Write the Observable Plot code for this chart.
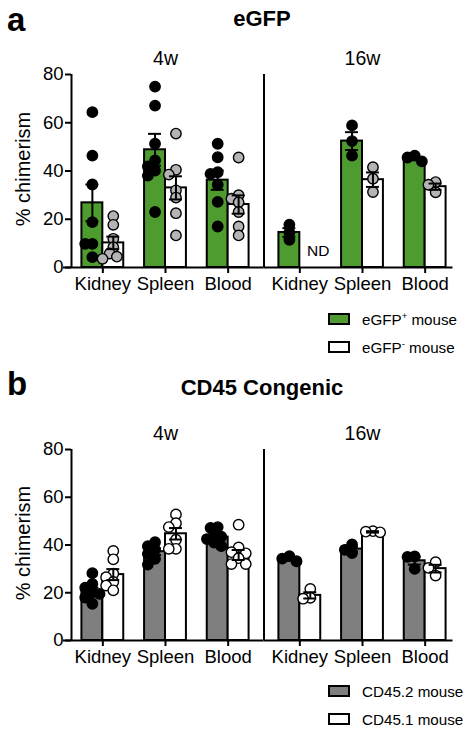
<!DOCTYPE html>
<html><head><meta charset="utf-8">
<script src="https://cdn.jsdelivr.net/npm/d3@7"></script>
<script src="https://cdn.jsdelivr.net/npm/@observablehq/plot@0.6"></script>
<style>
body{margin:0;background:#fff;font-family:"Liberation Sans",Arial,Helvetica,sans-serif;color:#000;}
#root{position:relative;width:474px;height:736px;overflow:hidden;background:#fff;}
.abs{position:absolute;white-space:nowrap;line-height:1;}
.lab{font-weight:bold;font-size:33px;left:7px;}
.title{font-weight:bold;font-size:22px;width:300px;left:112px;text-align:center;}
.panel{position:absolute;left:0;}
.leg{position:absolute;left:328px;display:flex;align-items:center;height:15px;font-size:15.2px;white-space:nowrap;}
.sw{display:inline-block;width:18px;height:8px;border:2px solid #000;margin-right:12px;}
.leg sup{font-size:9.5px;vertical-align:6px;line-height:0;}
</style></head>
<body><div id="root">
<div class="abs lab" style="top:3px">a</div>
<div class="abs title" style="top:8px">eGFP</div>
<div id="pa" class="panel" style="top:40px"></div>
<div class="abs lab" style="top:367px">b</div>
<div class="abs title" style="top:377px">CD45 Congenic</div>
<div id="pb" class="panel" style="top:415px"></div>
</div>
<script>
const tissues = ["Kidney", "Spleen", "Blood"];
const times = ["4w", "16w"];
const yTicks = [0, 20, 40, 60, 80];
const yLabel = "% chimerism";

// Panel a: eGFP (% chimerism), per tissue [Kidney, Spleen, Blood]
const egfpPos4w = [[64.4, 46.4, 34.4, 18.8, 9.8, 9.8, 4.3], [75.0, 67.1, 51.3, 44.4, 41.9, 40.2, 38.1, 23.0], [51.3, 45.7, 39.5, 38.8, 34.3, 27.2, 17.0]];
const egfpPos4wMean = [26.8, 48.8, 36.2];
const egfpPos4wSem = [7.6, 6.6, 4.0];
const egfpNeg4w = [[21.3, 17.7, 11.9, 8.4, 5.8, 4.5, 3.6], [55.5, 40.5, 38.5, 32.0, 29.0, 22.5, 13.3], [45.6, 30.0, 28.5, 27.0, 23.0, 17.0, 13.3]];
const egfpNeg4wMean = [10.2, 33.0, 26.1];
const egfpNeg4wSem = [2.6, 4.8, 3.8];
const egfpPos16w = [[17.8, 14.5, 11.5], [58.9, 52.4, 46.4], [46.4, 45.6, 44.0]];
const egfpPos16wMean = [14.5, 52.4, 45.2];
const egfpPos16wSem = [1.8, 3.7, 0.7];
const egfpNeg16w = [[], [41.6, 36.8, 31.3], [35.4, 34.3, 31.2]];
const egfpNeg16wMean = [null, 36.4, 33.5];
const egfpNeg16wSem = [null, 3.0, 1.3];

// Panel b: CD45 congenic (% chimerism)
const cd452_4w = [[28.2, 23.7, 22.1, 20.2, 19.5, 18.0, 15.4], [41.2, 39.5, 38.0, 36.3, 34.2, 31.8], [47.5, 47.2, 44.5, 43.5, 42.5, 41.0, 39.5]];
const cd452_4wMean = [20.5, 37.2, 43.3];
const cd452_4wSem = [1.6, 1.4, 1.1];
const cd451_4w = [[37.5, 34.0, 28.0, 26.5, 24.5, 23.0, 21.0], [52.8, 49.1, 47.5, 42.2, 38.4, 38.4], [48.5, 39.0, 37.0, 36.5, 34.5, 32.0, 32.0]];
const cd451_4wMean = [27.6, 44.7, 35.8];
const cd451_4wSem = [2.3, 2.4, 2.1];
const cd452_16w = [[35.3, 34.3, 33.2], [40.2, 38.0, 36.6], [35.2, 35.0, 30.0]];
const cd452_16wMean = [34.2, 38.3, 33.4];
const cd452_16wSem = [0.6, 1.0, 1.6];
const cd451_16w = [[21.6, 17.9, 17.5], [45.8, 45.6, 45.3], [32.8, 30.4, 27.2]];
const cd451_16wMean = [18.9, 45.5, 30.1];
const cd451_16wSem = [1.3, 0.3, 1.6];

const egfpLegend = ["eGFP<sup>+</sup> mouse", "eGFP<sup>-</sup> mouse"];
const egfpBarFill = ["#4e9c2f", "#ffffff"];
const egfpDotFill = ["#000000", "#b4b4b4"];
const cd45Legend = ["CD45.2 mouse", "CD45.1 mouse"];
const cd45BarFill = ["#7f7f7f", "#ffffff"];
const cd45DotFill = ["#000000", "#ffffff"];

// layout
const W = 474, ML = 70, MR = 17.5, MT = 34, MB = 35, PIN = 0.0455;
const plotW = W - ML - MR;
const fstep = plotW / (2 - PIN);
const bandW = fstep * (1 - PIN);
const gap = fstep * PIN;
const pxX = bandW / 3;
const barU = 21 / pxX;
const capU = 6.5 / pxX;

function swarm(vals, pxY) {
  const placed = [], out = [];
  const minD = 7.2, stepPx = 3.6;
  for (const v of vals) {
    const y = v * pxY;
    let best = 0;
    for (let k = 0; k < 16; k++) {
      const off = k === 0 ? 0 : (k % 2 ? -1 : 1) * Math.ceil(k / 2) * stepPx;
      if (placed.every(p => Math.hypot(p[0] - off, p[1] - y) >= minD)) { best = off; break; }
    }
    placed.push([best, y]);
    out.push(best);
  }
  return out;
}

function panel(series, barFill, dotFill, height) {
  const pxY = (height - MT - MB) / 80;
  const bars = [], pts = [];
  for (const s of series) {
    tissues.forEach((t, i) => {
      const c = i + 0.5 + (s.g ? 1 : -1) * barU / 2;
      bars.push({time: s.time, g: s.g, i, c, mean: s.mean[i], sem: s.sem[i]});
      const offs = swarm(s.pts[i], pxY);
      s.pts[i].forEach((v, k) => pts.push({time: s.time, g: s.g, v, x: c + offs[k] / pxX}));
    });
  }
  const okBars = bars.filter(d => d.mean != null);
  const ndBars = bars.filter(d => d.mean == null);
  return Plot.plot({
    width: W, height,
    marginLeft: ML, marginRight: MR, marginTop: MT, marginBottom: MB,
    style: {fontFamily: '"Liberation Sans", Arial, Helvetica, sans-serif', fontSize: "18.5px", color: "#000", background: "transparent", overflow: "visible"},
    fx: {domain: times, paddingInner: PIN, paddingOuter: 0, axis: null},
    x: {domain: [0, 3], axis: null},
    y: {domain: [0, 80], axis: null},
    color: {type: "identity"},
    marks: [
      Plot.rect(okBars, {fx: "time", x1: d => d.i + 0.5 - (d.g ? 0 : barU), x2: d => d.i + 0.5 + (d.g ? barU : 0), y1: 0, y2: "mean", fill: d => barFill[d.g], stroke: "#000", strokeWidth: 2}),
      Plot.text(ndBars, {fx: "time", x: "c", y: 0, text: () => "ND", dx: 8, dy: -16, fontSize: 15.5}),
      Plot.dot(pts, {fx: "time", x: "x", y: "v", r: 5.2, fill: d => dotFill[d.g], stroke: "#000", strokeWidth: 1.4}),
      Plot.ruleX(okBars, {fx: "time", x: "c", y1: d => d.mean - d.sem, y2: d => d.mean + d.sem, strokeWidth: 2}),
      Plot.ruleY(okBars, {fx: "time", y: d => d.mean + d.sem, x1: d => d.c - capU, x2: d => d.c + capU, strokeWidth: 2}),
      Plot.ruleY(okBars, {fx: "time", y: d => d.mean - d.sem, x1: d => d.c - capU, x2: d => d.c + capU, strokeWidth: 2}),
      Plot.ruleX(["4w"], {fx: d => d, x: 0, y1: 0, y2: 80, strokeWidth: 2}),
      Plot.ruleX(["16w"], {fx: d => d, x: 0, dx: -gap / 2, y1: 0, y2: 80, strokeWidth: 2}),
      Plot.ruleY(["4w"], {fx: d => d, y: 0, x1: 0, x2: 3, insetLeft: -8, insetRight: -gap / 2, strokeWidth: 2}),
      Plot.ruleY(["16w"], {fx: d => d, y: 0, x1: 0, x2: 3, insetLeft: -gap / 2, insetRight: 3.5, strokeWidth: 2}),
      Plot.axisX([0.5, 1.5, 2.5], {tickFormat: d => tissues[Math.round(d - 0.5)], tickSize: 6, tickPadding: 3, strokeWidth: 2, fontSize: 18.5, label: null}),
      Plot.axisY(yTicks, {tickSize: 6, tickPadding: 2, strokeWidth: 2, fontSize: 18.5, label: null}),
      Plot.text([yLabel], {fx: () => "4w", text: d => d, frameAnchor: "left", rotate: -90, textAnchor: "middle", lineAnchor: "middle", dx: -47.5, dy: -2, fontSize: 20}),
      Plot.text(times, {fx: d => d, text: d => d, frameAnchor: "top", lineAnchor: "bottom", dy: -10, fontSize: 19.5})
    ]
  });
}

function legend(root, top, labels, fills) {
  labels.forEach((lab, k) => {
    const row = document.createElement("div");
    row.className = "leg";
    row.style.top = (top + k * 28) + "px";
    row.innerHTML = `<span class="sw" style="background:${fills[k]}"></span><span>${lab}</span>`;
    root.appendChild(row);
  });
}

const seriesA = [
  {time: "4w", g: 0, pts: egfpPos4w, mean: egfpPos4wMean, sem: egfpPos4wSem},
  {time: "4w", g: 1, pts: egfpNeg4w, mean: egfpNeg4wMean, sem: egfpNeg4wSem},
  {time: "16w", g: 0, pts: egfpPos16w, mean: egfpPos16wMean, sem: egfpPos16wSem},
  {time: "16w", g: 1, pts: egfpNeg16w, mean: egfpNeg16wMean, sem: egfpNeg16wSem}
];
const seriesB = [
  {time: "4w", g: 0, pts: cd452_4w, mean: cd452_4wMean, sem: cd452_4wSem},
  {time: "4w", g: 1, pts: cd451_4w, mean: cd451_4wMean, sem: cd451_4wSem},
  {time: "16w", g: 0, pts: cd452_16w, mean: cd452_16wMean, sem: cd452_16wSem},
  {time: "16w", g: 1, pts: cd451_16w, mean: cd451_16wMean, sem: cd451_16wSem}
];

document.getElementById("pa").appendChild(panel(seriesA, egfpBarFill, egfpDotFill, 262));
document.getElementById("pb").appendChild(panel(seriesB, cd45BarFill, cd45DotFill, 260));
const root = document.getElementById("root");
legend(root, 311.5, egfpLegend, egfpBarFill);
legend(root, 683.5, cd45Legend, cd45BarFill);
</script>
</body></html>
